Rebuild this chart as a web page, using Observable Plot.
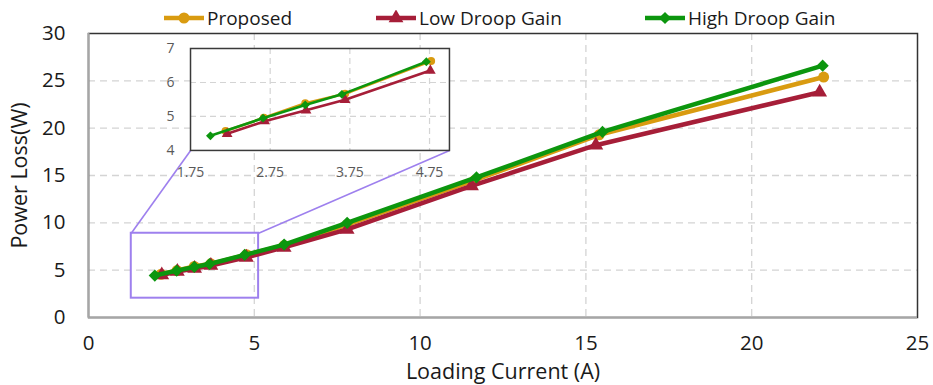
<!DOCTYPE html>
<html><head><meta charset="utf-8">
<script src="https://cdn.jsdelivr.net/npm/d3@7"></script>
<script src="https://cdn.jsdelivr.net/npm/@observablehq/plot@0.6"></script>
<style>
body{margin:0;background:#fff;font-family:"Open Sans",sans-serif;}
#wrap{position:relative;width:933px;height:385px;overflow:hidden;}
#wrap svg{position:absolute;}
.item{position:absolute;top:5px;display:flex;align-items:center;font-size:19px;color:#1a1a1a;white-space:nowrap;}
.item svg{position:static !important;margin-right:3px;}
g[aria-label="x-axis label"] text, g[aria-label="y-axis label"] text{font-size:21.5px;}
</style></head><body>
<div id="wrap"></div>
<script>
// ---- data ----
const series = ["Proposed", "Low Droop Gain", "High Droop Gain"];
const colors = ["#D99B10", "#A61E38", "#0C960E"];
const symbols = ["circle", "triangle", "diamond2"];

const proposedX = [2.19, 2.67, 3.19, 3.69, 4.77, 5.9, 7.8, 11.65, 15.4, 22.17];
const proposedY = [4.57, 4.96, 5.39, 5.67, 6.63, 7.6, 9.8, 14.5, 19.3, 25.4];
const lowX = [2.21, 2.68, 3.2, 3.69, 4.76, 5.9, 7.8, 11.55, 15.3, 22.05];
const lowY = [4.49, 4.86, 5.18, 5.49, 6.35, 7.4, 9.3, 13.9, 18.2, 23.8];
const highX = [2.0, 2.66, 3.19, 3.65, 4.71, 5.9, 7.8, 11.7, 15.5, 22.14];
const highY = [4.43, 4.95, 5.34, 5.65, 6.61, 7.7, 10.0, 14.8, 19.6, 26.6];

const xTicks = [0, 5, 10, 15, 20, 25];
const yTicks = [0, 5, 10, 15, 20, 25, 30];
const insetXTicks = [1.75, 2.75, 3.75, 4.75];
const insetYTicks = [4, 5, 6, 7];

// zoom region and inset placement (in main-chart data units)
const zoomBox = {x1: 1.29, x2: 5.13, y1: 2.04, y2: 8.9};
const insetBox = {x1: 3.08, x2: 10.89, y1: 17.64, y2: 28.41};
const insetDomainX = [1.75, 5];
const insetDomainY = [4, 7];

// ---- build table ----
const xs = [proposedX, lowX, highX], ys = [proposedY, lowY, highY];
const data = series.flatMap((s, i) => xs[i].map((x, j) => ({series: s, x, y: ys[i][j]})));
const purple = "#9E80EE";

const seriesMarks = (sw, r, filter) => series.flatMap(s => {
  const d = data.filter(p => p.series === s && filter(p));
  return [
    Plot.line(d, {x: "x", y: "y", stroke: "series", strokeWidth: sw, strokeLinejoin: "round"}),
    Plot.dot(d, {x: "x", y: "y", fill: "series", symbol: "series", r, stroke: "none"})
  ];
});

const scales = {
  color: {domain: series, range: colors},
  symbol: {domain: series, range: symbols}
};

const main = Plot.plot({
  width: 933, height: 385,
  marginLeft: 88, marginRight: 16, marginTop: 33, marginBottom: 68,
  style: {fontFamily: "Open Sans", fontSize: "20.5px", color: "#1a1a1a", background: "transparent", overflow: "visible"},
  x: {domain: [0, 25], ticks: xTicks, tickSize: 0, tickPadding: 18, label: "Loading Current (A)", labelAnchor: "center", labelArrow: "none", labelOffset: 61},
  y: {domain: [0, 30], ticks: yTicks, tickSize: 0, tickPadding: 23, label: "Power Loss(W)", labelAnchor: "center", labelArrow: "none", labelOffset: 77},
  ...scales,
  marks: [
    Plot.gridX(xTicks.slice(1, -1), {stroke: "#d4d4d4", strokeOpacity: 1, strokeDasharray: "7,5", strokeWidth: 1.3}),
    Plot.gridY(yTicks.slice(1, -1), {stroke: "#d4d4d4", strokeOpacity: 1, strokeDasharray: "7,5", strokeWidth: 1.3}),
    Plot.frame({stroke: "#333", strokeWidth: 1.5}),
    Plot.ruleX([0], {stroke: "#a6a6a6", strokeWidth: 2}),
    Plot.ruleY([0], {stroke: "#a6a6a6", strokeWidth: 2}),
    Plot.rect([zoomBox], {x1: "x1", x2: "x2", y1: "y1", y2: "y2", fill: "none", stroke: purple, strokeWidth: 2}),
    Plot.link([
      {x1: zoomBox.x1, y1: zoomBox.y2, x2: insetBox.x1, y2: insetBox.y1},
      {x1: zoomBox.x2, y1: zoomBox.y2, x2: insetBox.x2, y2: insetBox.y1}
    ], {x1: "x1", y1: "y1", x2: "x2", y2: "y2", stroke: purple, strokeWidth: 1.6}),
    ...seriesMarks(4.5, 5.5, () => true)
  ]
});
main.style.left = "0px"; main.style.top = "0px";
const wrap = document.getElementById("wrap");
wrap.appendChild(main);

// ---- inset ----
const X = main.scale("x"), Y = main.scale("y");
const px1 = X.apply(insetBox.x1), px2 = X.apply(insetBox.x2);
const pyTop = Y.apply(insetBox.y2), pyBot = Y.apply(insetBox.y1);
const inML = 40, inMR = 6, inMT = 10, inMB = 40;
const inset = Plot.plot({
  width: (px2 - px1) + inML + inMR, height: (pyBot - pyTop) + inMT + inMB,
  marginLeft: inML, marginRight: inMR, marginTop: inMT, marginBottom: inMB,
  style: {fontFamily: "Open Sans", fontSize: "14px", color: "#595959", background: "transparent", overflow: "visible"},
  x: {domain: insetDomainX, ticks: insetXTicks, tickFormat: d => d.toFixed(2), tickSize: 0, tickPadding: 17, label: null},
  y: {domain: insetDomainY, ticks: insetYTicks, tickFormat: d3.format("d"), tickSize: 0, tickPadding: 16, label: null},
  ...scales,
  marks: [
    Plot.frame({fill: "white"}),
    Plot.gridX(insetXTicks.slice(1), {stroke: "#d4d4d4", strokeOpacity: 1, strokeDasharray: "6,4", strokeWidth: 1.2}),
    Plot.gridY(insetYTicks.slice(1, -1), {stroke: "#d4d4d4", strokeOpacity: 1, strokeDasharray: "6,4", strokeWidth: 1.2}),
    Plot.frame({stroke: "#3a3a3a", strokeWidth: 1.5}),
    ...seriesMarks(2.6, 4, p => p.x <= 5)
  ]
});
inset.style.left = (px1 - inML) + "px";
inset.style.top = (pyTop - inMT) + "px";
wrap.appendChild(inset);

// ---- legend ----
const legendLeft = [164, 376, 645];
series.forEach((s, i) => {
  const item = document.createElement("div");
  item.className = "item";
  item.style.left = legendLeft[i] + "px";
  const sw = d3.create("svg").attr("width", 40).attr("height", 16);
  sw.append("line").attr("x1", 0).attr("x2", 40).attr("y1", 8).attr("y2", 8)
    .attr("stroke", colors[i]).attr("stroke-width", 4.5);
  const symType = {circle: d3.symbolCircle, triangle: d3.symbolTriangle, diamond2: d3.symbolDiamond2}[symbols[i]];
  sw.append("path").attr("transform", "translate(20,8)")
    .attr("d", d3.symbol(symType, Math.PI * 5.5 * 5.5)()).attr("fill", colors[i]);
  item.appendChild(sw.node());
  const t = document.createElement("span");
  t.textContent = s;
  item.appendChild(t);
  wrap.appendChild(item);
});
</script>
</body></html>
